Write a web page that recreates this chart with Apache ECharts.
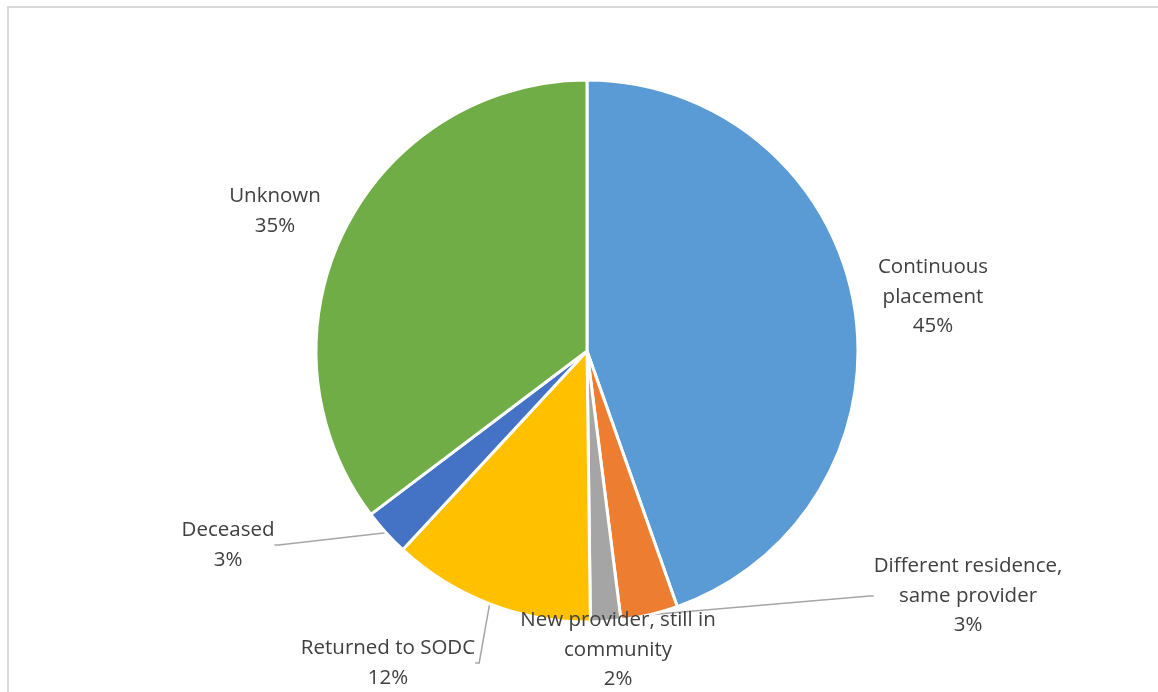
<!DOCTYPE html>
<html>
<head>
<meta charset="utf-8">
<script src="https://cdn.jsdelivr.net/npm/echarts@6/dist/echarts.min.js"></script>
<style>
html,body{margin:0;padding:0;background:#fff;}
#chart{width:1158px;height:692px;}
</style>
</head>
<body>
<div id="chart"></div>
<script>
const categories = [
  "Continuous\nplacement",
  "Different residence,\nsame provider",
  "New provider, still in\ncommunity",
  "Returned to SODC",
  "Deceased",
  "Unknown"
];
const values = [44.6, 3.4, 1.8, 12.1, 2.8, 35.3];
const colors = ["#5B9BD5", "#ED7D31", "#A5A5A5", "#FFC000", "#4472C4", "#70AD47"];
const showLeader = [false, true, false, true, true, false];

// label block centres (layout only)
const labelPos = [[933, 297], [968, 596], [618, 650], [388, 663], [228, 545], [275, 211]];

const chart = echarts.init(document.getElementById('chart'), null, {renderer: 'canvas'});

const total = values.reduce((a, b) => a + b, 0);

chart.setOption({
  backgroundColor: '#ffffff',
  animation: false,
  graphic: [{
    type: 'rect',
    shape: {x: 8, y: 7, width: 1300, height: 900},
    style: {fill: 'none', stroke: '#D9D9D9', lineWidth: 2},
    silent: true,
    z: -10
  }],
  series: [{
    type: 'pie',
    center: [587, 351],
    radius: 271,
    startAngle: 90,
    clockwise: true,
    avoidLabelOverlap: false,
    itemStyle: {borderColor: '#ffffff', borderWidth: 3},
    label: {
      show: true,
      position: 'outside',
      color: '#404040',
      fontFamily: '"Open Sans", Lato, sans-serif',
      fontSize: 20.5,
      lineHeight: 29.5,
      align: 'center',
      formatter: function (p) {
        return p.name + '\n' + Math.round(p.value / total * 100) + '%';
      }
    },
    labelLine: {show: true, length: 4, length2: 4, smooth: false, lineStyle: {color: '#A6A6A6', width: 1.5}},
    labelLayout: function (p) {
      const pos = labelPos[p.dataIndex];
      return {x: pos[0], y: pos[1], align: 'center', verticalAlign: 'middle'};
    },
    data: categories.map((c, i) => ({
      name: c,
      value: values[i],
      itemStyle: {color: colors[i]},
      labelLine: {show: showLeader[i]}
    }))
  }]
});
</script>
</body>
</html>
